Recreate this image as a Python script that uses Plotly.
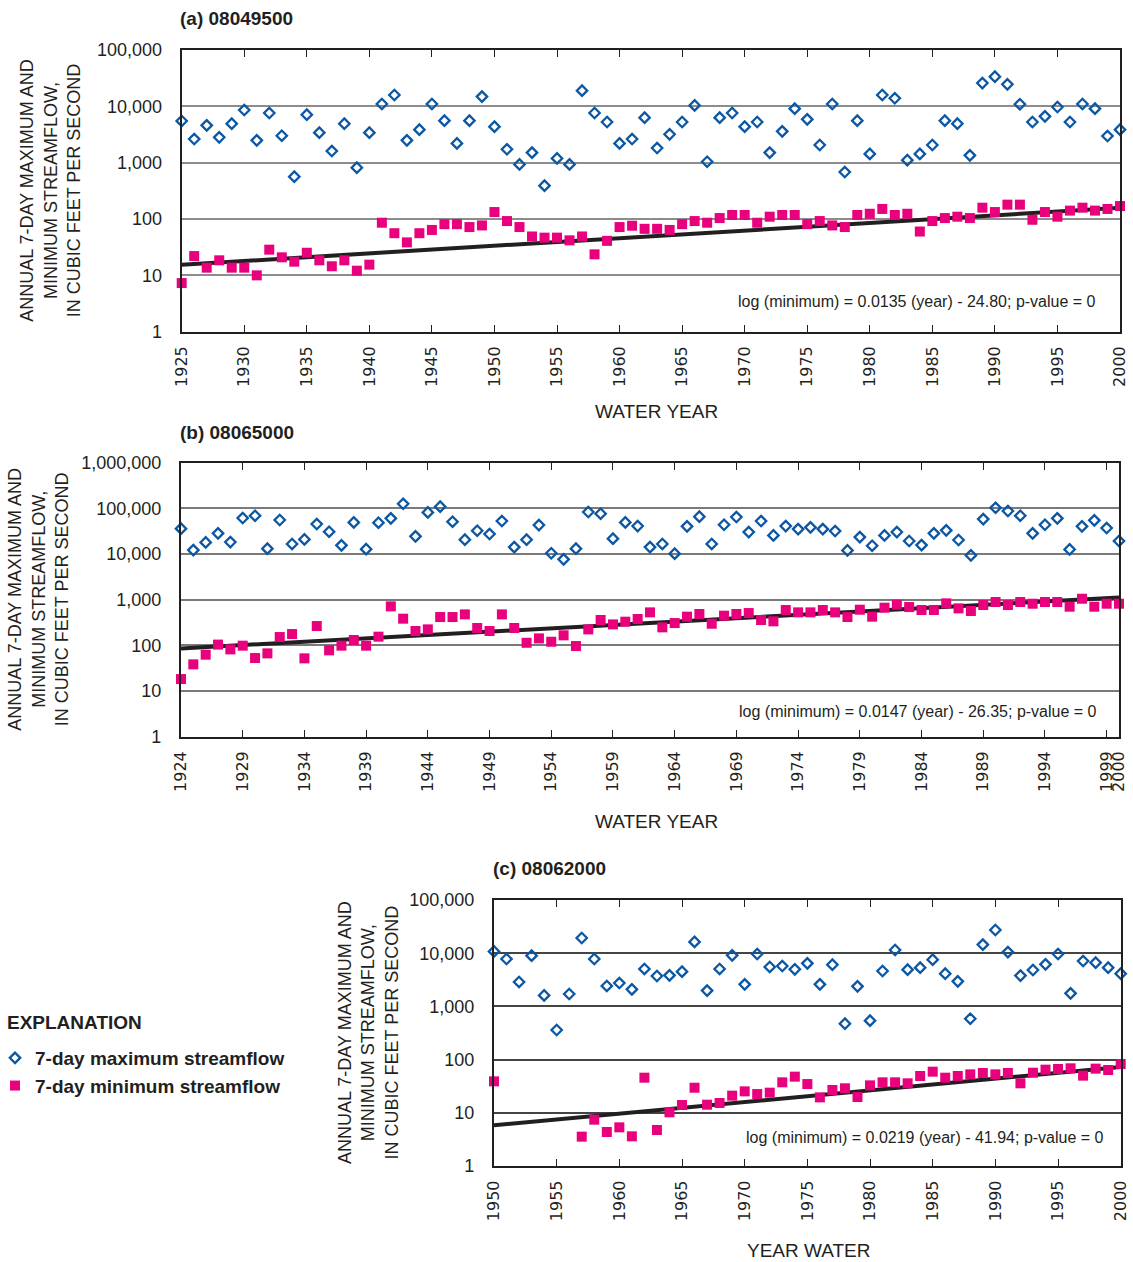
import plotly.graph_objects as go

# ---------------- DATA ----------------
# Panel (a) 08049500, water years 1925-2000
years_a = list(range(1925, 2001))
max_a = [5500, 2630, 4600, 2820, 4920, 8600, 2490, 7620, 3010, 564,
         7110, 3410, 1610, 4920, 815, 3410, 11000, 15900, 2490, 3860,
         11000, 5570, 2200, 5570, 14900, 4360, 1730, 933, 1510, 391,
         1190, 933, 19000, 7620, 5270, 2200, 2630, 6300, 1820, 3190,
         5270, 10400, 1040, 6300, 7620, 4360, 5270, 1510, 3600, 9100,
         5880, 2060, 11000, 682, 5570, 1430, 15900, 13900, 1110, 1430,
         2060, 5570, 4920, 1350, 25900, 33600, 24600, 10900, 5270, 6640,
         9730, 5270, 11000, 9100, 2970, 3860]
min_a = [7.3, 22, 13.7, 18.5, 13.7, 13.7, 10, 28.6, 20.9, 17.5,
         25.2, 18.5, 14.5, 18.5, 12.1, 15.5, 86, 56, 38.5, 56,
         64, 81, 81, 72, 77, 133, 92, 72, 49, 46.7,
         46.7, 41.8, 49, 23.6, 41, 72, 76, 67, 67, 64,
         81, 92, 86, 104, 118, 118, 86, 110, 118, 118,
         81, 92, 77, 72, 118, 124, 151, 118, 124, 60,
         92, 104, 110, 104, 159, 133, 180, 180, 97, 133,
         110, 141, 159, 141, 151, 170]
trend_a = (0.0135, -24.80)
eq_a = "log (minimum) = 0.0135 (year) - 24.80; p-value = 0"

# Panel (b) 08065000, water years 1924-2000
years_b = list(range(1924, 2001))
max_b = [35900, 12200, 18000, 28400, 18300, 61400, 69000, 13100, 55600, 16600,
         20900, 45400, 30800, 15500, 49300, 12800, 48500, 60400, 126000, 24400,
         81600, 109000, 51000, 20600, 32400, 27400, 52800, 14200, 20600, 43100,
         10400, 7640, 13100, 83200, 76400, 21700, 49300, 41000, 14200, 16600,
         10200, 40400, 65800, 16600, 43800, 64600, 30300, 52800, 25600, 41000,
         35200, 38400, 35200, 31900, 12000, 23500, 15200, 25600, 30300, 19300,
         15700, 28400, 33000, 20300, 9350, 58300, 103000, 87500, 69000, 28400,
         43800, 60400, 12600, 40400, 54600, 37100, 19300]
min_b = [18.3, 38.4, 62.5, 104, 81.6, 98.5, 52.8, 66.8, 152, 177,
         51.9, 265, 77.8, 98.5, 131, 98.5, 155, 714, 384, 206,
         224, 417, 417, 477, 240, 206, 477, 240, 114, 142,
         120, 166, 96.6, 224, 359, 288, 330, 378, 528, 248,
         308, 425, 486, 298, 447, 486, 510, 359, 336, 594,
         528, 528, 594, 528, 417, 604, 425, 668, 778, 690,
         594, 594, 832, 646, 565, 764, 889, 764, 889, 817,
         889, 889, 703, 1050, 703, 817, 817]
trend_b = (0.0147, -26.35)
eq_b = "log (minimum) = 0.0147 (year) - 26.35; p-value = 0"

# Panel (c) 08062000, water years 1950-2000
years_c = list(range(1950, 2001))
max_c = [10800, 7780, 2880, 9000, 1610, 360, 1710, 19300, 7780, 2420,
         2750, 2090, 5050, 3730, 3830, 4500, 16300, 1980, 5050, 9120,
         2600, 9660, 5510, 5740, 4980, 6450, 2600, 6080, 473, 2380,
         539, 4630, 11500, 4900, 5350, 7550, 4120, 2960, 587, 14500,
         27300, 10500, 3790, 4830, 6180, 9660, 1760, 7130, 6640, 5350,
         4120]
min_c = [39, None, None, None, None, None, None, 3.56, 7.43, 4.36,
         5.33, 3.61, 45.7, 4.75, 10.2, 14.0, 29.6, 14.2, 15.3, 21.0,
         25.3, 22.5, 23.9, 37.4, 47.8, 34.7, 19.5, 26.8, 28.9, 19.8,
         32.8, 37.4, 37.4, 35.8, 49.2, 59.3, 45.7, 49.2, 52.8, 56.0,
         52.8, 56.0, 35.8, 56.7, 64.7, 66.6, 68.6, 49.9, 67.6, 63.8,
         82.6]
trend_c = (0.0219, -41.94)
eq_c = "log (minimum) = 0.0219 (year) - 41.94; p-value = 0"

ticks_x_a = list(range(1925, 2001, 5))
ticks_x_b = list(range(1924, 2000, 5)) + [2000]
ticks_x_c = list(range(1950, 2001, 5))
ticks_y_5 = [1, 10, 100, 1000, 10000, 100000]
ticks_y_6 = [1, 10, 100, 1000, 10000, 100000, 1000000]

titles = ["(a) 08049500", "(b) 08065000", "(c) 08062000"]
ytitle = "ANNUAL 7-DAY MAXIMUM AND<br>MINIMUM STREAMFLOW,<br>IN CUBIC FEET PER SECOND"
xtitles = ["WATER YEAR", "WATER YEAR", "YEAR WATER"]
legend_names = ["7-day maximum streamflow", "7-day minimum streamflow"]

# ---------------- STYLE / LAYOUT ----------------
FW, FH = 1133, 1262  # figure fills the whole window (page margin removed)
BLUE = "#0b57a4"
MAG = "#e8007d"
INK = "#231f20"
SANS = "Liberation Sans, Arial, Helvetica, sans-serif"
WIDE = "DejaVu Sans, Liberation Sans, sans-serif"


def px_x(p):
    return p / FW


def px_y(p):
    return 1 - p / FH


panels = [
    dict(years=years_a, mx=max_a, mn=min_a, trend=trend_a, eq=eq_a, xt=ticks_x_a, yt=ticks_y_5,
         box=(181.7, 50, 1120, 331.7), grid="#8c8c8c", ytitle_x=51, eq_pos=(1098, 301),
         title_pos=(178, 18), xtitle_pos=(656, 411)),
    dict(years=years_b, mx=max_b, mn=min_b, trend=trend_b, eq=eq_b, xt=ticks_x_b, yt=ticks_y_6,
         box=(181, 462.7, 1119, 736.7), grid="#7a7a7a", ytitle_x=39, eq_pos=(1099, 712),
         title_pos=(178, 432), xtitle_pos=(656, 821)),
    dict(years=years_c, mx=max_c, mn=min_c, trend=trend_c, eq=eq_c, xt=ticks_x_c, yt=ticks_y_5,
         box=(494, 900, 1120.7, 1166), grid="#444444", ytitle_x=368, eq_pos=(1106, 1137),
         title_pos=(491, 868), xtitle_pos=(809, 1250)),
]

fig = go.Figure()
annotations = []
layout_axes = {}

for i, p in enumerate(panels):
    n = "" if i == 0 else str(i + 1)
    xa, ya = "x" + n, "y" + n
    x0, y0, x1, y1 = p["box"]
    yrs = p["years"]
    slope, icpt = p["trend"]
    line_x = [yrs[0], yrs[-1]]
    line_y = [10 ** (slope * v + icpt) for v in line_x]

    fig.add_trace(go.Scatter(x=line_x, y=line_y, mode="lines", xaxis=xa, yaxis=ya,
                             line=dict(color=INK, width=4), showlegend=False,
                             hoverinfo="skip"))
    fig.add_trace(go.Scatter(x=yrs, y=p["mx"], mode="markers", xaxis=xa, yaxis=ya,
                             name=legend_names[0], showlegend=(i == 0), cliponaxis=False,
                             marker=dict(symbol="diamond-open", size=8, color=BLUE,
                                         line=dict(color=BLUE, width=2.3))))
    fig.add_trace(go.Scatter(x=yrs, y=p["mn"], mode="markers", xaxis=xa, yaxis=ya,
                             name=legend_names[1], showlegend=(i == 0), cliponaxis=False,
                             marker=dict(symbol="square", size=10, color=MAG,
                                         line=dict(width=0))))

    ytext = [f"{v:,}" for v in p["yt"]]

    layout_axes["xaxis" + n] = dict(
        domain=[px_x(x0), px_x(x1)], anchor=ya, range=[yrs[0], yrs[-1]],
        tickmode="array", tickvals=p["xt"], ticktext=[str(v) for v in p["xt"]],
        ticks="inside", ticklen=7, tickwidth=1, tickcolor=INK, tickangle=-90,
        tickfont=dict(family=WIDE, size=16, color=INK),
        showline=True, linewidth=2.2, linecolor=INK, mirror="ticks",
        showgrid=False, zeroline=False, ticklabelstandoff=6, automargin=False,
    )
    layout_axes["yaxis" + n] = dict(
        domain=[px_y(y1), px_y(y0)], anchor=xa, type="log",
        range=[0, len(p["yt"]) - 1],
        tickmode="array", tickvals=p["yt"], ticktext=ytext,
        ticks="", tickfont=dict(family=SANS, size=18, color=INK),
        showline=True, linewidth=2.2, linecolor=INK, mirror=True,
        showgrid=True, gridcolor=p["grid"], gridwidth=1.5, zeroline=False,
        ticklabelstandoff=14, automargin=False,
    )

    annotations.append(dict(text="<b>" + titles[i] + "</b>", xref="paper", yref="paper",
                            x=px_x(p["title_pos"][0]), y=px_y(p["title_pos"][1]),
                            xanchor="left", yanchor="middle", showarrow=False,
                            font=dict(family=SANS, size=19, color=INK)))
    annotations.append(dict(text=ytitle, xref="paper", yref="paper",
                            x=px_x(p["ytitle_x"]), y=px_y((y0 + y1) / 2),
                            xanchor="center", yanchor="middle", showarrow=False,
                            textangle=-90, align="center",
                            font=dict(family=SANS, size=18, color=INK)))
    annotations.append(dict(text=xtitles[i], xref="paper", yref="paper",
                            x=px_x(p["xtitle_pos"][0]), y=px_y(p["xtitle_pos"][1]),
                            xanchor="center", yanchor="middle", showarrow=False,
                            font=dict(family=SANS, size=19, color=INK)))
    annotations.append(dict(text=p["eq"], xref="paper", yref="paper",
                            x=px_x(p["eq_pos"][0]), y=px_y(p["eq_pos"][1]),
                            xanchor="right", yanchor="middle", showarrow=False,
                            font=dict(family=SANS, size=16, color=INK)))

annotations.append(dict(text="<b>EXPLANATION</b>", xref="paper", yref="paper",
                        x=px_x(5), y=px_y(1022), xanchor="left", yanchor="middle",
                        showarrow=False, font=dict(family=SANS, size=19, color=INK)))

fig.update_layout(
    width=FW, height=FH, margin=dict(l=0, r=0, t=0, b=0, autoexpand=False),
    paper_bgcolor="white", plot_bgcolor="white",
    annotations=annotations,
    showlegend=True,
    legend=dict(x=0, y=px_y(1039), xanchor="left", yanchor="top", indentation=-5,
                font=dict(family=SANS, size=19, color=INK, weight="bold"),
                bgcolor="rgba(0,0,0,0)", borderwidth=0, tracegroupgap=0),
    **layout_axes,
)

fig.write_html("out.html", config={"displayModeBar": False},
               post_script="document.body.style.margin='0';")
